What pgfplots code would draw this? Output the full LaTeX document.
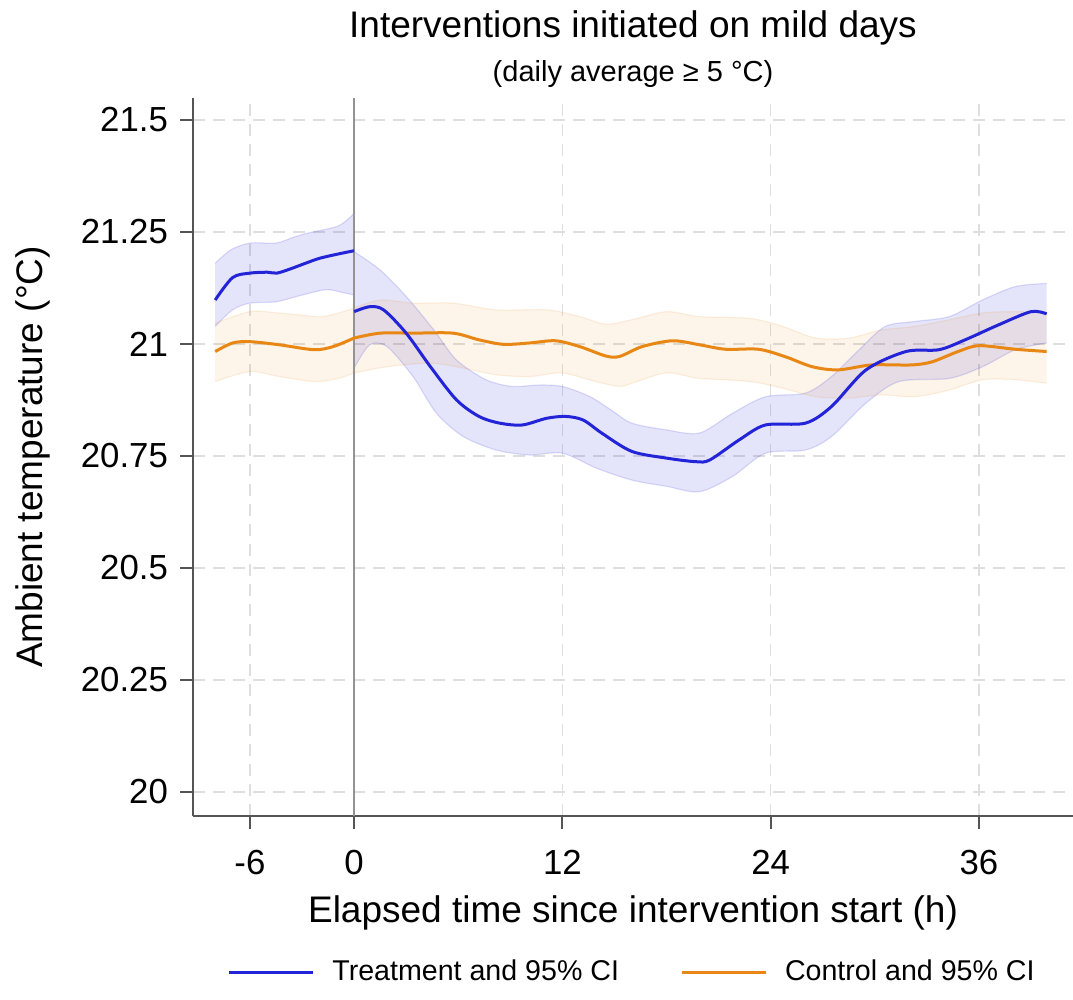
\documentclass[border=0pt]{standalone}
\usepackage{fontspec}
\setmainfont{Liberation Sans}
\usepackage{pgfplots}
\pgfplotsset{compat=1.18}
\usepgfplotslibrary{fillbetween}
\definecolor{treat}{RGB}{35,35,215}
\definecolor{ctrl}{RGB}{232,135,20}
\definecolor{spine}{RGB}{85,85,85}
\definecolor{gridc}{RGB}{222,222,222}
\begin{document}
\begin{tikzpicture}
\begin{axis}[
  scale only axis,
  width=440pt, height=359pt,
  xmin=-9.28, xmax=41.42,
  ymin=19.946, ymax=21.549,
  axis x line=bottom, axis y line=left,
  axis line style={-, spine, line width=1.2pt},
  xtick={-6,0,12,24,36},
  xticklabels={-6,0,12,24,36},
  ytick={20,20.25,20.5,20.75,21,21.25,21.5},
  yticklabels={20,20.25,20.5,20.75,21,21.25,21.5},
  tick align=outside,
  major tick length=6.5pt,
  every tick/.style={spine, line width=1.1pt},
  tick label style={font=\fontsize{17.4}{20}\selectfont, text=black},
  xticklabel style={yshift=-7pt},
  yticklabel style={xshift=-2.5pt},
  grid=major,
  major grid style={gridc, line width=0.8pt, dash pattern=on 6pt off 4pt},
  clip=false,
  legend columns=2,
  legend style={at={(0.5,-78pt)}, anchor=center, draw=none, fill=none,
    font=\fontsize{14.3}{16}\selectfont, column sep=7pt, /tikz/every even column/.append style={column sep=28.5pt}},
  legend image code/.code={\draw[#1, line width=1.5pt] (0pt,0pt) -- (42pt,0pt);},
]
% treatment bands
\addplot[name path=tpu, draw=treat, draw opacity=0.15, line width=0.6pt, smooth, forget plot] coordinates {
(-8,21.180) (-7.1,21.210) (-6,21.225) (-4.5,21.225) (-3.5,21.238) (-2.7,21.247) (-1,21.262) (-0.3,21.280) (0,21.292)};
\addplot[name path=tpl, draw=treat, draw opacity=0.15, line width=0.6pt, smooth, forget plot] coordinates {
(-8,21.039) (-7,21.076) (-6,21.091) (-4.5,21.094) (-3,21.109) (-1.6,21.121) (-0.7,21.115) (0,21.109)};
\addplot[treat, fill opacity=0.12, forget plot] fill between[of=tpu and tpl];
\addplot[name path=tqu, draw=treat, draw opacity=0.15, line width=0.6pt, smooth, forget plot] coordinates {
(0,21.206) (1.5,21.165) (3.0,21.106) (4.6,21.031) (5.9,20.964) (7.6,20.920) (9.1,20.905) (10.6,20.908) (12.0,20.905) (13.6,20.882) (14.9,20.850) (16.0,20.823) (18.0,20.808) (19.9,20.801) (21.8,20.845) (23.7,20.882) (26.0,20.890) (27.5,20.927) (29.1,20.987) (30.6,21.039) (32.3,21.050) (34.3,21.061) (36.2,21.098) (38.1,21.128) (39.9,21.135)};
\addplot[name path=tql, draw=treat, draw opacity=0.15, line width=0.6pt, smooth, forget plot] coordinates {
(0,20.946) (0.9,20.998) (1.9,20.994) (3.4,20.927) (4.75,20.845) (6.3,20.793) (8.2,20.763) (10.1,20.752) (12.0,20.756) (14.0,20.722) (16.0,20.696) (18.0,20.682) (19.9,20.670) (21.8,20.704) (23.7,20.756) (26.0,20.763) (27.5,20.793) (29.5,20.868) (31.4,20.916) (34.3,20.923) (36.2,20.949) (38.1,20.987) (39.9,21.002)};
\addplot[treat, fill opacity=0.12, forget plot] fill between[of=tqu and tql];
% control bands
\addplot[name path=cpu, draw=ctrl, draw opacity=0.12, line width=0.6pt, smooth, forget plot] coordinates {
(-8,21.046) (-6,21.072) (-4.3,21.069) (-2,21.061) (-1,21.068) (0,21.080)};
\addplot[name path=cpl, draw=ctrl, draw opacity=0.12, line width=0.6pt, smooth, forget plot] coordinates {
(-8,20.916) (-6,20.938) (-4.3,20.927) (-2.3,20.916) (-1,20.922) (0,20.935)};
\addplot[ctrl, fill opacity=0.09, forget plot] fill between[of=cpu and cpl];
\addplot[name path=cqu, draw=ctrl, draw opacity=0.12, line width=0.6pt, smooth, forget plot] coordinates {
(0,21.080) (1.5,21.098) (3.4,21.091) (5.7,21.091) (8.2,21.076) (11.1,21.076) (13.0,21.061) (14.5,21.044) (16.0,21.054) (18.0,21.072) (19.9,21.061) (22.8,21.057) (24.7,21.039) (26.6,21.013) (28.5,21.013) (30.4,21.031) (32.3,21.039) (34.3,21.054) (36.2,21.069) (38.1,21.072) (39.9,21.069)};
\addplot[name path=cql, draw=ctrl, draw opacity=0.12, line width=0.6pt, smooth, forget plot] coordinates {
(0,20.935) (1.9,20.949) (4.4,20.957) (6.3,20.946) (8.2,20.931) (10.1,20.927) (12.0,20.935) (13.9,20.916) (15.3,20.905) (16.0,20.912) (18.0,20.935) (19.9,20.923) (22.8,20.916) (24.7,20.901) (26.6,20.882) (28.5,20.879) (30.4,20.886) (32.3,20.882) (34.3,20.897) (36.2,20.920) (38.1,20.920) (39.9,20.912)};
\addplot[ctrl, fill opacity=0.09, forget plot] fill between[of=cqu and cql];
% vertical line at 0
\draw[gray!85, line width=1pt] (axis cs:0,19.946) -- (axis cs:0,21.549);
% lines
\addplot[ctrl, line width=1.5pt, smooth, forget plot] coordinates {
(-8,20.983) (-7,21.002) (-6,21.005) (-4.3,20.998) (-2.3,20.987) (-1.2,20.994) (0,21.013)};
\addplot[ctrl, line width=1.5pt, smooth, forget plot] coordinates {
(0,21.013) (1.5,21.024) (3.4,21.024) (5.7,21.024) (7.2,21.009) (8.6,20.999) (10.1,21.002) (11.6,21.007) (13.0,20.994) (14.5,20.973) (15.3,20.972) (16.6,20.994) (18.35,21.007) (19.9,20.998) (21.4,20.988) (23.3,20.988) (24.8,20.972) (26.4,20.949) (27.9,20.942) (29.8,20.953) (32.1,20.953) (33.3,20.960) (34.8,20.983) (36.0,20.996) (38.1,20.988) (39.9,20.983)};
\addplot[treat, line width=1.5pt, smooth, forget plot] coordinates {
(-8,21.098) (-7,21.148) (-6,21.158) (-5,21.160) (-4.45,21.158) (-3.7,21.167) (-2.8,21.180) (-2,21.191) (-1,21.200) (0,21.208)};
\addplot[treat, line width=1.5pt, smooth, forget plot] coordinates {
(0,21.072) (0.9,21.083) (1.7,21.076) (3.0,21.024) (4.4,20.949) (5.9,20.875) (7.2,20.838) (8.4,20.823) (9.7,20.819) (11.1,20.834) (12.2,20.838) (13.2,20.830) (14.3,20.800) (16.0,20.760) (18.0,20.745) (19.7,20.737) (20.5,20.741) (22.2,20.786) (23.7,20.819) (26.0,20.823) (27.5,20.860) (29.5,20.942) (31.8,20.983) (33.7,20.987) (35.2,21.009) (37.1,21.042) (39.0,21.072) (39.9,21.067)};
\addlegendimage{treat}
\addlegendentry{Treatment and 95\% CI}
\addlegendimage{ctrl}
\addlegendentry{Control and 95\% CI}
\end{axis}
\node[font=\fontsize{18.5}{22}\selectfont, anchor=base] at ([yshift=30pt]current axis.north) {Interventions initiated on mild days};
\node[font=\fontsize{14.5}{17}\selectfont, anchor=base] at ([yshift=8pt]current axis.north) {(daily average ≥ 5 °C)};
\node[font=\fontsize{18.5}{22}\selectfont] at ([yshift=-48.5pt]current axis.south) {Elapsed time since intervention start (h)};
\node[font=\fontsize{18.5}{22}\selectfont, rotate=90] at ([xshift=-80pt]current axis.west) {Ambient temperature (°C)};
\pgfresetboundingbox
\path ([xshift=-96.5pt,yshift=-91.5pt]current axis.south west) rectangle ([yshift=49pt]current axis.north east);
\end{tikzpicture}
\end{document}
